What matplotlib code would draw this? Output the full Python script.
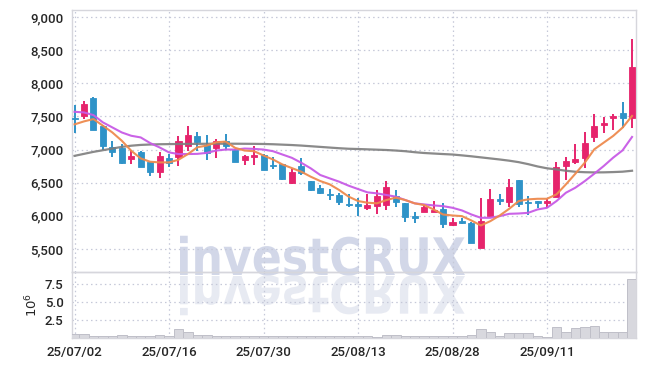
import numpy as np
import matplotlib
matplotlib.use('Agg')
import matplotlib.pyplot as plt
from matplotlib.textpath import TextPath
from matplotlib.patches import PathPatch
from matplotlib.font_manager import FontProperties
from matplotlib.transforms import Affine2D

# Trading days shown (60 sessions).
dates = ['25/07/02', '25/07/03', '25/07/04', '25/07/07', '25/07/08',
         '25/07/09', '25/07/10', '25/07/11', '25/07/14', '25/07/15',
         '25/07/16', '25/07/17', '25/07/18', '25/07/21', '25/07/22',
         '25/07/23', '25/07/24', '25/07/25', '25/07/28', '25/07/29',
         '25/07/30', '25/07/31', '25/08/01', '25/08/04', '25/08/05',
         '25/08/06', '25/08/07', '25/08/08', '25/08/11', '25/08/12',
         '25/08/13', '25/08/14', '25/08/18', '25/08/19', '25/08/20',
         '25/08/21', '25/08/22', '25/08/25', '25/08/26', '25/08/27',
         '25/08/28', '25/08/29', '25/09/01', '25/09/02', '25/09/03',
         '25/09/04', '25/09/05', '25/09/08', '25/09/09', '25/09/10',
         '25/09/11', '25/09/12', '25/09/15', '25/09/16', '25/09/17',
         '25/09/18', '25/09/19', '25/09/22', '25/09/23', '25/09/24']

opens = [7480, 7510, 7780, 7360, 7040, 7017, 6850, 6970, 6815, 6655,
         6876, 6880, 7050, 7200, 7075, 7025, 7125, 7000, 6835, 6885,
         6925, 6755, 6775, 6500, 6750, 6525, 6425, 6335, 6314, 6170,
         6183, 6118, 6148, 6163, 6304, 6188, 6000, 6061, 6061, 6096,
         5859, 5919, 5894, 5515, 5995, 6253, 6212, 6535, 6200, 6222,
         6197, 6287, 6751, 6812, 6877, 7190, 7371, 7477, 7552, 7482]
highs = [7670, 7726, 7790, 7365, 7133, 7082, 6992, 6975, 6816, 6967,
         6932, 7208, 7350, 7260, 7225, 7160, 7240, 7005, 6925, 7050,
         6930, 6890, 6775, 6710, 6875, 6530, 6465, 6405, 6340, 6324,
         6273, 6330, 6389, 6525, 6389, 6190, 6062, 6170, 6222, 6187,
         5970, 5970, 5900, 6273, 6399, 6323, 6550, 6540, 6298, 6225,
         6257, 6817, 6887, 7089, 7265, 7542, 7492, 7532, 7719, 8666]
lows = [7250, 7460, 7300, 7000, 6881, 6780, 6781, 6730, 6600, 6575,
        6730, 6755, 6985, 6975, 6840, 6865, 7000, 6810, 6765, 6760,
        6690, 6700, 6540, 6475, 6620, 6380, 6335, 6238, 6163, 6128,
        6000, 6088, 6027, 6088, 6128, 5911, 5886, 6055, 6061, 5818,
        5843, 5879, 5590, 5515, 5995, 6157, 6136, 6136, 6010, 6111,
        6121, 6280, 6539, 6787, 6716, 7114, 7245, 7295, 7331, 7331]
closes = [7460, 7686, 7300, 7060, 6960, 6790, 6910, 6730, 6655, 6905,
          6796, 7135, 7225, 7110, 6950, 7125, 7050, 6815, 6900, 6912,
          6690, 6745, 6560, 6660, 6640, 6385, 6340, 6310, 6203, 6160,
          6148, 6163, 6299, 6440, 6203, 5987, 5965, 6131, 6086, 5879,
          5909, 5895, 5591, 5919, 6248, 6230, 6434, 6172, 6187, 6200,
          6217, 6736, 6827, 6852, 7094, 7356, 7406, 7507, 7472, 8248]

# Moving average lines.
ma_short = [7380, 7425, 7460, 7360, 7258, 7133, 6982, 6866, 6816, 6806,
            6806, 6846, 6932, 7035, 7060, 7110, 7120, 7025, 6985, 6975,
            6910, 6850, 6775, 6720, 6665, 6590, 6525, 6475, 6390, 6290,
            6223, 6198, 6188, 6238, 6274, 6238, 6188, 6162, 6096, 6020,
            6005, 5995, 5929, 5854, 5919, 6005, 6106, 6222, 6248, 6257,
            6257, 6323, 6474, 6635, 6802, 7003, 7104, 7205, 7331, 7507]
ma_mid = [7570, 7560, 7520, 7410, 7334, 7258, 7208, 7183, 7098, 7032,
          6957, 6932, 6932, 6935, 6950, 6985, 7000, 7000, 7015, 7010,
          7000, 6975, 6925, 6875, 6800, 6716, 6616, 6565, 6515, 6455,
          6404, 6354, 6339, 6314, 6289, 6238, 6188, 6172, 6157, 6146,
          6121, 6081, 6020, 5970, 5970, 5995, 6030, 6035, 6045, 6096,
          6121, 6222, 6348, 6424, 6524, 6635, 6751, 6877, 6988, 7190]
ma_long = [6905, 6935, 6965, 6990, 7015, 7040, 7058, 7070, 7076, 7080,
           7082, 7084, 7085, 7086, 7087, 7088, 7088, 7088, 7087, 7086,
           7084, 7080, 7074, 7068, 7060, 7050, 7040, 7030, 7020, 7012,
           7008, 7003, 6998, 6993, 6985, 6975, 6960, 6948, 6940, 6932,
           6925, 6912, 6898, 6882, 6866, 6850, 6832, 6810, 6780, 6745,
           6717, 6700, 6680, 6665, 6658, 6655, 6656, 6660, 6666, 6680]

# Volume in millions of shares.
volume = [0.55, 0.55, 0.25, 0.2, 0.25, 0.4, 0.2, 0.2, 0.2, 0.4,
          0.15, 1.15, 0.75, 0.3, 0.3, 0.25, 0.2, 0.15, 0.15, 0.15,
          0.25, 0.15, 0.25, 0.15, 0.15, 0.25, 0.15, 0.15, 0.2, 0.15,
          0.15, 0.15, 0.12, 0.3, 0.3, 0.25, 0.15, 0.15, 0.2, 0.2,
          0.15, 0.15, 0.33, 1.26, 0.75, 0.28, 0.7, 0.6, 0.6, 0.15,
          0.14, 1.54, 0.75, 1.4, 1.54, 1.68, 0.75, 0.75, 0.75, 8.26]

price_ticks = [5500, 6000, 6500, 7000, 7500, 8000, 8500, 9000]
volume_ticks = [2.5, 5.0, 7.5]

up_color = '#e6246c'
down_color = '#2f93c8'
grid_color = '#c5c8d8'
spine_color = '#d6d6dc'
label_color = '#262626'

plt.rcParams['font.family'] = ['Roboto', 'DejaVu Sans']

W, H = 645, 366
fig = plt.figure(figsize=(W / 100, H / 100), dpi=100)
ax = fig.add_axes([72 / W, 1 - 272 / H, 564 / W, 262 / H])
axv = fig.add_axes([72 / W, 1 - 337.5 / H, 564 / W, 65.5 / H], sharex=ax)
for a in (ax, axv):
    a.set_facecolor('none')
    for s in a.spines.values():
        s.set_color(spine_color)
        s.set_linewidth(1.0)
    a.grid(True, color=grid_color, linestyle=(0, (1.2, 2.5)), linewidth=0.9)
    a.set_axisbelow(True)
    a.tick_params(length=0, labelsize=9.5, labelcolor=label_color, pad=6)
    for lab in a.get_xticklabels() + a.get_yticklabels():
        lab.set_fontweight('medium')

# Watermark with its mirrored reflection.
wm_prop = FontProperties(family='DejaVu Sans', weight='bold')
tp = TextPath((0, 0), 'investCRUX', size=1, prop=wm_prop)
ext = tp.get_extents()
sx = 285 / ext.width
sy = 40 / ext.height
x0 = 180 - ext.x0 * sx
base = H - 275
to_fig = Affine2D().scale(1 / W, 1 / H) + fig.transFigure
wm = PathPatch(tp, facecolor='#cbd1e5', edgecolor='none', alpha=0.85,
               transform=Affine2D().scale(sx, sy).translate(x0, base) + to_fig,
               zorder=-2)
wm_ref = PathPatch(tp, facecolor='#e2e5ef', edgecolor='none', alpha=0.8,
                   transform=Affine2D().scale(sx, -sy).translate(x0, base - 1) + to_fig,
                   zorder=-2)
fig.add_artist(wm)
fig.add_artist(wm_ref)

x = np.arange(len(dates))
o = np.array(opens)
c = np.array(closes)
colors = [up_color if cc >= oo else down_color for oo, cc in zip(o, c)]

ax.vlines(x, lows, highs, colors=colors, linewidth=1.4, zorder=3)
body_bottom = np.minimum(o, c)
body_height = np.maximum(np.abs(c - o), 18)
ax.bar(x, body_height, bottom=body_bottom, width=0.64, color=colors,
       edgecolor=colors, linewidth=0.6, zorder=4)

ax.plot(x, ma_long, color='#7d7d7d', linewidth=1.6, alpha=0.9, zorder=5)
ax.plot(x, ma_mid, color='#c85be6', linewidth=1.5, alpha=0.95, zorder=5)
ax.plot(x, ma_short, color='#ee8a4e', linewidth=1.5, alpha=0.95, zorder=6)

ax.set_ylim(5152, 9106)
ax.set_yticks(price_ticks)
ax.set_yticklabels(['{:,}'.format(t) for t in price_ticks], fontweight='medium')
ax.tick_params(axis='x', labelbottom=False)

axv.bar(x, volume, width=1.0, color='#d8d8de', edgecolor='#bfbfc8',
        linewidth=0.7, zorder=3)
axv.set_ylim(0, 9.17)
axv.set_yticks(volume_ticks)
axv.set_yticklabels(['{:.1f}'.format(t) for t in volume_ticks], fontweight='medium')
axv.set_ylabel(r'$10^6$', fontsize=9.5, color=label_color, labelpad=3)

tick_pos = x[::10]
axv.set_xticks(tick_pos)
axv.set_xticklabels([dates[i] for i in tick_pos], fontweight='medium')
axv.set_xlim(-0.27, 59.42)

fig.savefig('out.png', dpi=100)
